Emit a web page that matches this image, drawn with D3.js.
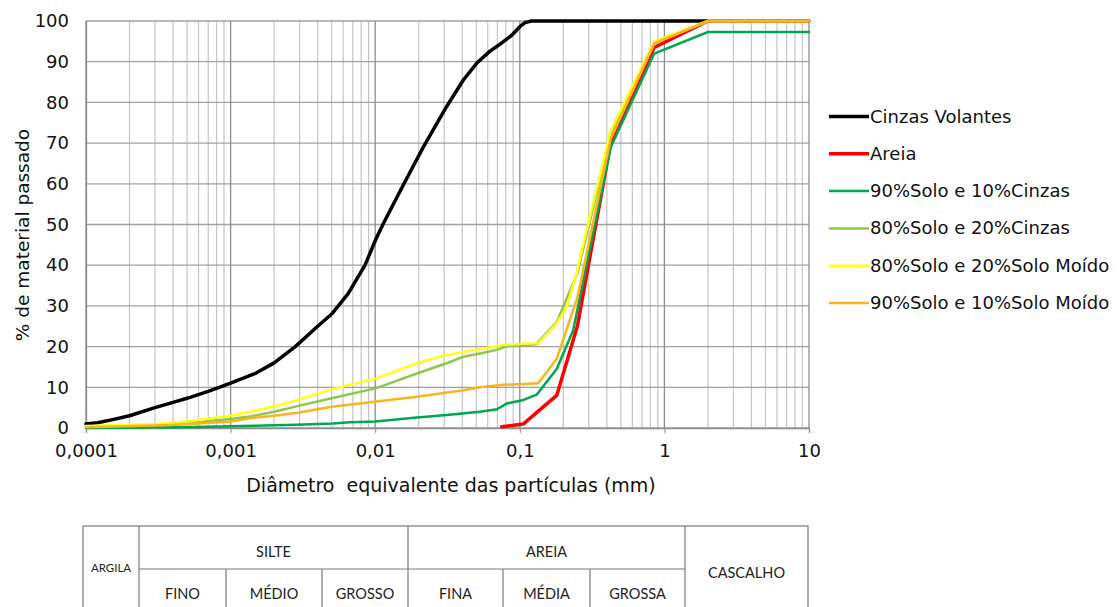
<!DOCTYPE html>
<html><head><meta charset="utf-8">
<script src="https://cdn.jsdelivr.net/npm/d3@7"></script>
<style>
html,body{margin:0;padding:0;background:#fff;}
svg{display:block;}
</style>
</head><body>
<svg id="chart" width="1118" height="607"></svg>
<script>
// ---------- DATA ----------
const seriesNames = ["Cinzas Volantes","Areia","90%Solo e 10%Cinzas","80%Solo e 20%Cinzas","80%Solo e 20%Solo Moído","90%Solo e 10%Solo Moído"];
const seriesColors = ["#000000","#ff0000","#00a650","#8cc84b","#ffff1a","#f9b41e"];
const seriesWidths = [3.5,3.5,2.5,2.5,2.5,2.5];

const cinzasD = [0.0001,0.00012,0.00015,0.0002,0.0003,0.0004,0.0005,0.0007,0.001,0.0015,0.002,0.0028,0.004,0.005,0.0065,0.0085,0.01,0.0113,0.0158,0.0215,0.0312,0.0407,0.0503,0.0622,0.075,0.0880,0.1,0.1086,0.12,2];
const cinzasP = [1,1.3,2,3,5,6.3,7.3,9,11,13.5,16,20,25,28,33,40,46,50,60,69,79,85.5,89.6,92.6,94.6,96.5,98.6,99.6,100,100];

const areiaD = [0.075,0.106,0.18,0.25,0.425,0.85,2,10];
const areiaP = [0.3,1,8,25,70,93.5,100,100];

const s90c10D = [0.0001,0.00045,0.001,0.00286,0.0051,0.0067,0.01,0.0194,0.0312,0.053,0.0695,0.0811,0.106,0.131,0.18,0.234,0.425,0.85,2,10];
const s90c10P = [0,0.2,0.4,0.8,1.1,1.4,1.6,2.6,3.2,4,4.6,6,6.9,8.2,14.5,24,69,92,97.3,97.3];

const s80c20D = [0.0001,0.0003,0.0005,0.001,0.00136,0.002,0.003,0.005,0.0102,0.0194,0.0312,0.0407,0.053,0.0695,0.0811,0.106,0.13,0.18,0.25,0.425,0.85,2,10];
const s80c20P = [0.3,0.8,1.2,2.2,2.8,4,5.5,7.3,9.8,13.4,15.9,17.5,18.3,19.2,20.1,20.4,20.6,26,38,72,94.5,100,100];

const s80m20D = [0.0001,0.0003,0.0005,0.001,0.00136,0.002,0.003,0.005,0.0102,0.0194,0.03,0.0407,0.0764,0.106,0.134,0.18,0.211,0.247,0.29,0.425,0.85,2,10];
const s80m20P = [0.5,1,1.6,3,4,5.3,7,9.5,12.2,15.9,17.8,18.7,20.4,20.7,20.8,25.7,29.8,38,48.6,73,95,100,100];

const s90m10D = [0.0001,0.0003,0.0005,0.001,0.00136,0.002,0.003,0.005,0.0102,0.0194,0.0407,0.053,0.0764,0.106,0.134,0.18,0.25,0.425,0.85,2,10];
const s90m10P = [0.2,0.6,0.9,1.6,2.4,3,3.8,5.2,6.5,7.7,9.3,10,10.6,10.8,11,17,32,71,94.5,100,100];

const seriesD = [cinzasD,areiaD,s90c10D,s80c20D,s80m20D,s90m10D];
const seriesP = [cinzasP,areiaP,s90c10P,s80c20P,s80m20P,s90m10P];

const xTickValues = [0.0001,0.001,0.01,0.1,1,10];
const xTickLabels = ["0,0001","0,001","0,01","0,1","1","10"];
const yTickValues = [0,10,20,30,40,50,60,70,80,90,100];

const tableTop = ["ARGILA","SILTE","AREIA","CASCALHO"];
const tableSub = ["FINO","MÉDIO","GROSSO","FINA","MÉDIA","GROSSA"];

// ---------- LAYOUT ----------
const svg = d3.select("#chart");
const L = 86, R = 809, T = 21, B = 428;
const x = d3.scaleLog().domain([0.0001,10]).range([L,R]);
const y = d3.scaleLinear().domain([0,100]).range([B,T]);
const mainFont = "'DejaVu Sans', Verdana, sans-serif";

// minor vertical grid
const minorVals = [];
for (let e=-4;e<1;e++) for (let k=2;k<=9;k++) minorVals.push(k*Math.pow(10,e));
const g = svg.append("g");
g.selectAll(".vmin").data(minorVals).enter().append("line")
  .attr("x1",d=>x(d)).attr("x2",d=>x(d)).attr("y1",T).attr("y2",B)
  .attr("stroke","#c4c4c4").attr("stroke-width",1.2);
g.selectAll(".hgrid").data(yTickValues).enter().append("line")
  .attr("x1",L).attr("x2",R).attr("y1",d=>y(d)).attr("y2",d=>y(d))
  .attr("stroke","#a0a0a0").attr("stroke-width",1.3);
g.selectAll(".vmaj").data(xTickValues).enter().append("line")
  .attr("x1",d=>x(d)).attr("x2",d=>x(d)).attr("y1",T).attr("y2",B)
  .attr("stroke","#8c8c8c").attr("stroke-width",1.3);

// axes
const xAxis = d3.axisBottom(x).tickValues(xTickValues).tickFormat((d,i)=>xTickLabels[i]).tickSize(5).tickPadding(11);
const xg = svg.append("g").attr("transform",`translate(0,${B})`).call(xAxis);
xg.select(".domain").attr("stroke","#8c8c8c").attr("stroke-width",1.3);
xg.selectAll(".tick line").attr("stroke","#8c8c8c");
xg.selectAll("text").attr("font-family",mainFont).attr("font-size",18).attr("fill","#111");

const yAxis = d3.axisLeft(y).tickValues(yTickValues).tickSize(0).tickPadding(17);
const yg = svg.append("g").attr("transform",`translate(${L},0)`).call(yAxis);
yg.select(".domain").attr("stroke","#8c8c8c").attr("stroke-width",1.3);
yg.selectAll("text").attr("font-family",mainFont).attr("font-size",18).attr("fill","#111");

// axis titles
svg.append("text").attr("x",451).attr("y",492).attr("text-anchor","middle")
  .attr("font-family",mainFont).attr("font-size",19).attr("fill","#111")
  .attr("xml:space","preserve").text("Diâmetro  equivalente das partículas (mm)");
svg.append("text").attr("transform",`translate(29,235) rotate(-90)`).attr("text-anchor","middle")
  .attr("font-family",mainFont).attr("font-size",18.5).attr("fill","#111")
  .text("% de material passado");

// series
const line = d3.line().x(d=>x(d[0])).y(d=>y(d[1]));
seriesNames.forEach((n,i)=>{
  const pts = seriesD[i].map((d,j)=>[d,seriesP[i][j]]);
  svg.append("path").datum(pts).attr("d",line).attr("fill","none")
    .attr("stroke",seriesColors[i]).attr("stroke-width",seriesWidths[i])
    .attr("stroke-linejoin","round").attr("stroke-linecap","round");
});

// legend
const lg = svg.append("g");
seriesNames.forEach((n,i)=>{
  const yy = 116.5 + i*37.3;
  lg.append("line").attr("x1",829).attr("x2",869).attr("y1",yy).attr("y2",yy)
    .attr("stroke",seriesColors[i]).attr("stroke-width",seriesWidths[i]);
  lg.append("text").attr("x",870).attr("y",yy+6).attr("font-family",mainFont)
    .attr("font-size",18).attr("fill","#111").text(n);
});

// classification table
const cols = [83,139,226,322,408,503,590,685,808];
const tTop = 526, tMid = 569, tBot = 640;
const tg = svg.append("g").attr("stroke","#7a7a7a").attr("stroke-width",1.2).attr("fill","none");
tg.append("rect").attr("x",cols[0]).attr("y",tTop).attr("width",cols[8]-cols[0]).attr("height",tBot-tTop);
[1,4,7].forEach(c=>tg.append("line").attr("x1",cols[c]).attr("x2",cols[c]).attr("y1",tTop).attr("y2",tBot));
[2,3,5,6].forEach(c=>tg.append("line").attr("x1",cols[c]).attr("x2",cols[c]).attr("y1",tMid).attr("y2",tBot));
tg.append("line").attr("x1",cols[1]).attr("x2",cols[7]).attr("y1",tMid).attr("y2",tMid);
const tf = "Lato, 'Open Sans', sans-serif";
const tt = svg.append("g").attr("font-family",tf).attr("fill","#222").attr("text-anchor","middle");
tt.append("text").attr("x",(cols[0]+cols[1])/2).attr("y",572).attr("font-size",11.5).text(tableTop[0]);
tt.append("text").attr("x",(cols[1]+cols[4])/2).attr("y",557).attr("font-size",14.5).text(tableTop[1]);
tt.append("text").attr("x",(cols[4]+cols[7])/2).attr("y",557).attr("font-size",14.5).text(tableTop[2]);
tt.append("text").attr("x",(cols[7]+cols[8])/2).attr("y",578).attr("font-size",14.5).text(tableTop[3]);
tableSub.forEach((s,i)=>{
  tt.append("text").attr("x",(cols[i+1]+cols[i+2])/2).attr("y",599).attr("font-size",14.5).text(s);
});
</script>
</body></html>
